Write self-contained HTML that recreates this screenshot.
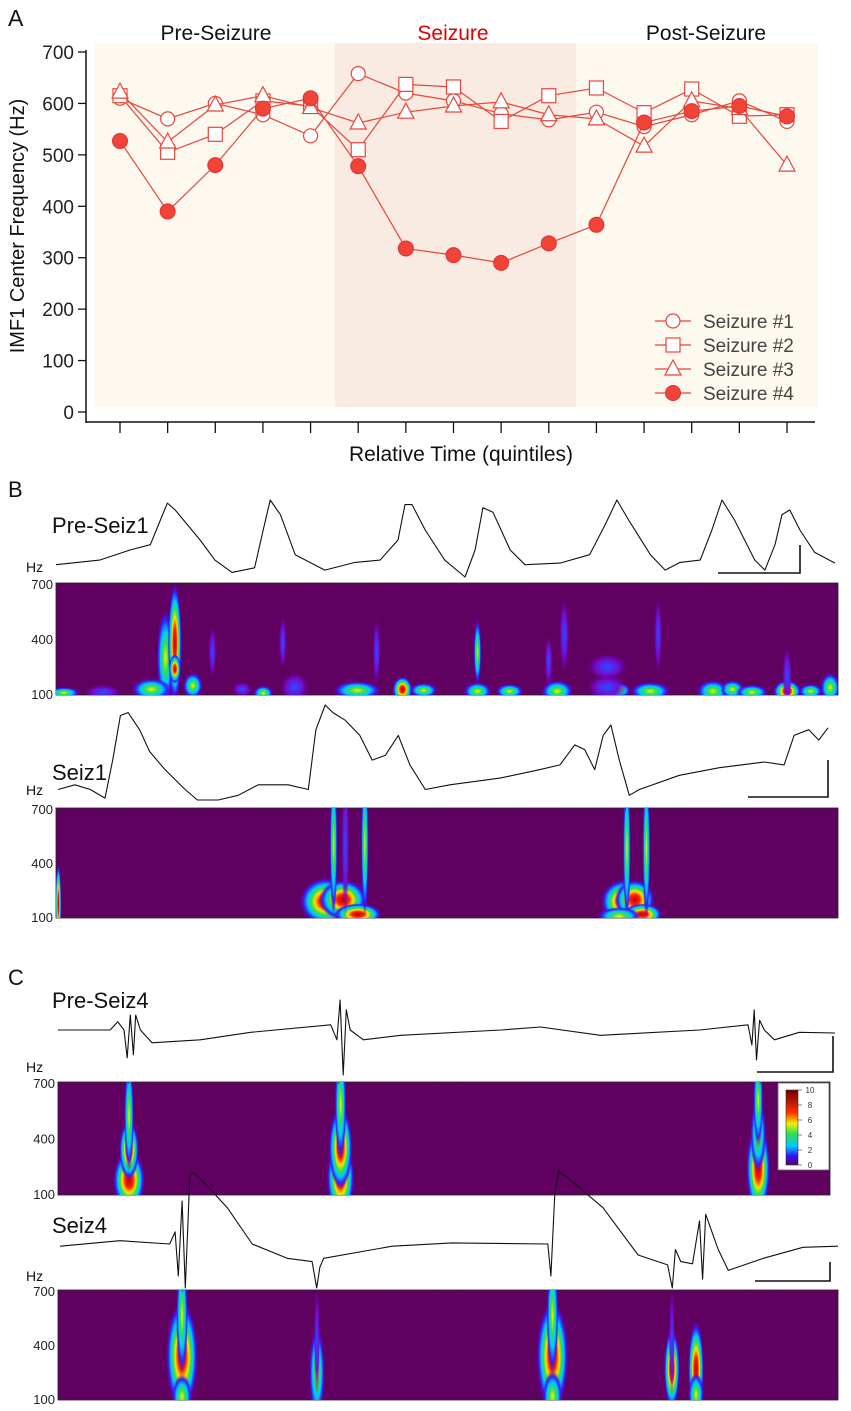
<!DOCTYPE html>
<html><head><meta charset="utf-8">
<style>
html,body{margin:0;padding:0;background:#fff;}
svg{display:block;font-family:"Liberation Sans",sans-serif;}
</style></head>
<body>
<svg id="fig" width="851" height="1411" viewBox="0 0 851 1411" xmlns="http://www.w3.org/2000/svg">
<defs>
<radialGradient id="gHi"><stop offset="0" stop-color="#c80000"/><stop offset="0.25" stop-color="#ff2000"/><stop offset="0.42" stop-color="#ffe000"/><stop offset="0.56" stop-color="#30e050"/><stop offset="0.7" stop-color="#00c8ff"/><stop offset="0.85" stop-color="#3020ff"/><stop offset="1" stop-color="#7000c0" stop-opacity="0"/></radialGradient>
<radialGradient id="gMid"><stop offset="0" stop-color="#f0f000"/><stop offset="0.3" stop-color="#30e050"/><stop offset="0.55" stop-color="#00c8ff"/><stop offset="0.78" stop-color="#3020ff"/><stop offset="1" stop-color="#7000c0" stop-opacity="0"/></radialGradient>
<radialGradient id="gLow"><stop offset="0" stop-color="#2050ff"/><stop offset="0.55" stop-color="#7010d8"/><stop offset="1" stop-color="#7000c0" stop-opacity="0"/></radialGradient>
<linearGradient id="cbar" x1="0" y1="1" x2="0" y2="0"><stop offset="0" stop-color="#600060"/><stop offset="0.12" stop-color="#3010ff"/><stop offset="0.25" stop-color="#00c8ff"/><stop offset="0.42" stop-color="#30e050"/><stop offset="0.55" stop-color="#f0f000"/><stop offset="0.7" stop-color="#ff3000"/><stop offset="1" stop-color="#700000"/></linearGradient>
</defs>
<g id="panelA"></g>
<g id="panelB"></g>
<g id="panelC"></g>
</svg>
<script>
// ---------- Panel A data ----------
const quintiles = [1,2,3,4,5,6,7,8,9,10,11,12,13,14,15];
const seizure1 = [610,570,600,578,537,658,620,605,580,568,583,555,578,605,565];
const seizure2 = [615,505,540,605,595,510,637,632,565,615,630,582,628,575,578];
const seizure3 = [622,525,597,615,592,562,583,595,603,578,570,517,605,590,480];
const seizure4 = [527,390,480,590,610,478,318,305,290,328,364,563,585,595,575];
const yTicks = [0,100,200,300,400,500,600,700];
const seriesNames = ["Seizure #1","Seizure #2","Seizure #3","Seizure #4"];

// ---------- Trace data (time 0-100, amplitude 0-1) ----------
const preSeiz1T = [0,5.6,9.5,12.1,13.4,14.3,15.3,18.5,20.4,22.6,25.5,26.6,27.5,28.8,30.7,34.5,38.4,41.6,43.9,44.8,45.7,47.4,49.9,52.5,53.8,54.8,56.1,58.3,60.2,64.7,68.5,70.5,72.0,73.5,76.3,78.2,80.1,82.7,84.2,85.5,87.1,89.7,91.0,92.3,93.2,94.2,95.5,97.4,100];
const preSeiz1V = [0.16,0.22,0.35,0.42,0.74,0.96,0.87,0.48,0.22,0.06,0.12,0.61,1.0,0.81,0.29,0.09,0.19,0.22,0.48,0.94,0.94,0.61,0.22,0.0,0.35,0.90,0.84,0.35,0.16,0.18,0.29,0.68,1.0,0.74,0.29,0.09,0.19,0.22,0.61,1.0,0.74,0.22,0.09,0.42,0.81,0.87,0.61,0.32,0.18];
const seiz1T = [0,2.2,4.2,6.1,7.1,8.1,9.1,10.6,11.9,13.9,16.5,18.1,20.8,23.4,26.0,29.9,32.5,33.5,34.7,35.7,37.3,39.2,40.8,42.5,44.2,45.7,47.7,50.9,57.4,62.6,65.2,67.1,68.4,69.7,70.8,71.8,72.9,74.2,75.5,80.7,85.9,91.7,94.3,95.6,97.5,98.8,100];
const seiz1V = [0.11,0.16,0.11,0.02,0.42,0.89,0.92,0.74,0.51,0.32,0.11,0.0,0.0,0.05,0.16,0.16,0.11,0.74,1.0,0.92,0.84,0.68,0.42,0.47,0.68,0.37,0.11,0.16,0.23,0.32,0.37,0.58,0.53,0.32,0.68,0.79,0.42,0.05,0.11,0.26,0.34,0.40,0.37,0.68,0.74,0.63,0.76];
const preSeiz4T = [0,6.7,7.7,8.5,8.9,9.3,9.7,10.0,10.6,12.1,18.3,24.8,35.1,35.9,36.3,36.7,37.1,37.6,39.3,44.1,57.0,62.1,69.8,82.6,88.8,89.3,89.6,89.9,90.3,90.9,92.2,95.4,100];
const preSeiz4V = [0.60,0.60,0.71,0.60,0.23,0.80,0.27,0.80,0.60,0.43,0.47,0.57,0.67,0.47,1.0,0.0,0.87,0.60,0.47,0.53,0.60,0.64,0.53,0.60,0.67,0.40,0.87,0.20,0.73,0.60,0.47,0.57,0.56];
const seiz4T = [0,7.7,14.1,14.8,15.2,15.7,16.1,16.7,17.2,18.9,21.5,24.7,29.2,32.4,33.0,33.4,33.9,42.7,50.4,62.7,63.1,63.6,64.1,65.3,69.8,74.3,78.1,78.7,79.1,79.8,81.3,82.2,82.6,83.0,84.6,85.9,90.4,95.5,100];
const seiz4V = [0.38,0.43,0.40,0.51,0.11,0.79,0.0,1.03,1.05,0.93,0.73,0.40,0.27,0.24,0.0,0.19,0.27,0.38,0.41,0.40,0.11,0.86,1.06,1.0,0.73,0.30,0.21,0.0,0.35,0.24,0.22,0.61,0.08,0.67,0.35,0.16,0.27,0.37,0.38];

// ---------- Spectrogram blobs: time (0-100), freq (Hz), width, height(Hz), level ----------
const specB1T = [14.0,15.2,15.2,12.2,23.8,26.5,30.5,38.5,44.3,53.9,53.9,64.1,65.0,70.5,72.0,70.5,84.0,93.5,93.5,99.0,6.0,29.0,63.0,41.0,77.0,1.0,17.5,20.0,47.0,58.0,76.0,86.5,89.0,96.5];
const specB1F = [300,380,240,130,130,110,140,125,130,120,330,120,420,250,125,140,120,120,200,140,115,380,280,330,420,112,150,330,125,120,120,130,115,120];
const specB1W = [9,7,6,20,10,10,14,24,10,14,4,16,5,20,12,20,16,14,5,10,18,4,4,4,4,16,10,4,14,14,20,12,16,12];
const specB1H = [260,320,80,60,40,40,80,50,70,50,180,60,200,70,40,70,60,60,160,80,40,140,140,180,200,30,70,140,40,40,50,50,40,40];
const specB1L = ["mid","hi","hi","mid","low","mid","low","mid","hi","mid","mid","mid","low","low","mid","low","mid","hi","low","mid","low","low","low","low","low","mid","mid","low","mid","mid","mid","mid","mid","mid"];

const specB2T = [0.3,34.5,36.7,38.6,35.5,37.0,39.5,72.5,74.0,75.0,73.0,75.5,72.0];
const specB2F = [180,190,200,120,500,500,500,190,200,120,480,480,110];
const specB2W = [3,26,24,24,4,4,4,22,20,20,4,4,22];
const specB2H = [220,130,110,60,400,400,400,120,110,60,400,400,50];
const specB2L = ["hi","hi","hi","hi","mid","low","mid","hi","hi","hi","mid","mid","mid"];

const specC1T = [9.2,9.2,9.2,36.6,36.6,36.6,90.7,90.7,90.7];
const specC1F = [180,340,520,190,350,580,240,420,600];
const specC1W = [16,10,5,14,12,6,12,8,5];
const specC1H = [160,160,300,200,220,300,240,200,250];
const specC1L = ["hi","hi","mid","hi","hi","mid","hi","mid","mid"];

const specC2T = [15.9,15.9,15.9,33.2,33.2,63.4,63.4,63.4,78.7,81.8,81.8,78.7];
const specC2F = [340,560,120,250,420,340,560,120,270,270,130,420];
const specC2W = [16,6,10,8,3,16,6,10,8,8,8,3];
const specC2H = [300,320,120,250,300,300,320,140,220,260,120,300];
const specC2L = ["hi","mid","mid","mid","low","hi","mid","mid","hi","hi","mid","low"];

const colorbarTicks = [0,2,4,6,8,10];

// ---------- helpers ----------
const NS = "http://www.w3.org/2000/svg";
function mk(tag, attrs, parent, text){
  const el = document.createElementNS(NS, tag);
  for (const k in attrs) el.setAttribute(k, attrs[k]);
  if (text !== undefined) el.textContent = text;
  parent.appendChild(el);
  return el;
}

// ================= Panel A =================
const A = document.getElementById('panelA');
const xA = i => 120 + (i-1)*(787-120)/14;
const yA = v => 412 - v*360/700;
const red = "#e8453c";

let bg = mk('rect',{x:95,y:43,width:723,height:364,fill:"#fdf9ef"},A);


let band = mk('rect',{x:335,y:43,width:241,height:364,fill:"#f9ebe2"},A);



let lblA = mk('text',{x:8,y:26,"font-size":23,fill:"#111"},A,"A");


const phases = [["Pre-Seizure",216,"#111"],["Seizure",453,"#e00000"],["Post-Seizure",706,"#111"]];
phases.forEach(p=>{
  const t = mk('text',{x:p[1],y:40,"font-size":21,"text-anchor":"middle",fill:p[2]},A,p[0]);
  
  
});

let yAxis = mk('line',{x1:86,y1:50,x2:86,y2:423,stroke:"#111","stroke-width":1.5},A);


let xAxis = mk('line',{x1:86,y1:422,x2:815,y2:422,stroke:"#111","stroke-width":1.5},A);


yTicks.forEach(v=>{
  const tk = mk('line',{x1:78,y1:yA(v),x2:86,y2:yA(v),stroke:"#111","stroke-width":1.3},A);
  
  
  const tl = mk('text',{x:74,y:yA(v)+7,"font-size":19,"text-anchor":"end",fill:"#222"},A,String(v));
  
  
});
quintiles.forEach(q=>{
  const tk = mk('line',{x1:xA(q),y1:422,x2:xA(q),y2:433,stroke:"#111","stroke-width":1.3},A);
  
  
});
let yt = mk('text',{x:0,y:0,"font-size":20,"text-anchor":"middle",fill:"#111",transform:"translate(24,226) rotate(-90)"},A,"IMF1 Center Frequency (Hz)");


let xt = mk('text',{x:461,y:461,"font-size":21,"text-anchor":"middle",fill:"#111"},A,"Relative Time (quintiles)");



function marker(kind, cx, cy, parent){
  let m;
  if (kind===0) m = mk('circle',{cx:cx,cy:cy,r:7,fill:"#fff",stroke:red,"stroke-width":1.2},parent);
  else if (kind===1) m = mk('rect',{x:cx-7,y:cy-7,width:14,height:14,fill:"#fff",stroke:red,"stroke-width":1.2},parent);
  else if (kind===2) m = mk('polygon',{points:`${cx},${cy-9} ${cx-8},${cy+6} ${cx+8},${cy+6}`,fill:"#fff",stroke:red,"stroke-width":1.2},parent);
  else m = mk('circle',{cx:cx,cy:cy,r:7.5,fill:"#f04438",stroke:"#e03030","stroke-width":1},parent);
  return m;
}
const allSeries = [seizure1,seizure2,seizure3,seizure4];
const seriesSlugs = ["seizure-1","seizure-2","seizure-3","seizure-4"];
allSeries.forEach((s,si)=>{
  const g = mk('g',{},A);
  
  
  const pts = s.map((v,i)=>xA(quintiles[i])+","+yA(v)).join(" ");
  const ln = mk('polyline',{points:pts,fill:"none",stroke:red,"stroke-width":1.2},g);
  
  
  s.forEach((v,i)=>{
    const m = marker(si, xA(quintiles[i]), yA(v), g);
    
    
  });
});
const legY = [321,345,369,393];
seriesNames.forEach((n,i)=>{
  const g = mk('g',{},A);
  
  
  mk('line',{x1:655,y1:legY[i],x2:691,y2:legY[i],stroke:red,"stroke-width":1.2},g);
  marker(i,673,legY[i],g);
  mk('text',{x:703,y:legY[i]+7,"font-size":19,fill:"#444"},g,n);
});

// ================= Traces & spectrograms =================
function trace(parent, name, T, V, x0, x1, yTop, yBot){
  const pts = T.map((t,i)=>{
    const x = x0 + t/100*(x1-x0);
    const y = yBot - V[i]*(yBot-yTop);
    return x.toFixed(1)+","+y.toFixed(1);
  }).join(" ");
  const p = mk('polyline',{points:pts,fill:"none",stroke:"#111","stroke-width":1.1,"stroke-linejoin":"round"},parent);
  
  
}
function scalebar(parent, x0, x1, yTop, yBot){
  const p = mk('polyline',{points:`${x0},${yBot} ${x1},${yBot} ${x1},${yTop}`,fill:"none",stroke:"#111","stroke-width":1.6},parent);
  
  
}
function spectro(parent, name, x0, x1, yTop, yBot, T, F, W, H, L){
  const g = mk('g',{},parent);
  
  
  const clipId = name+'-clip';
  const cp = mk('clipPath',{id:clipId},g);
  mk('rect',{x:x0,y:yTop,width:x1-x0,height:yBot-yTop},cp);
  const r = mk('rect',{x:x0,y:yTop,width:x1-x0,height:yBot-yTop,fill:"#600060",stroke:"#222","stroke-width":0.8},g);
  
  
  const fy = f => yBot - (f-100)/600*(yBot-yTop);
  const bl = mk('g',{"clip-path":`url(#${clipId})`},g);
  T.forEach((t,i)=>{
    const cx = x0 + t/100*(x1-x0);
    const e = mk('ellipse',{cx:cx,cy:fy(F[i]),rx:W[i],ry:H[i]/600*(yBot-yTop),fill:`url(#g${L[i][0].toUpperCase()+L[i].slice(1)})`},bl);
    
    
  });
  for (let x=x0; x<=x1; x+=7.8){
    mk('line',{x1:x,y1:yTop,x2:x,y2:yTop+2,stroke:"#222","stroke-width":0.6},g);
  }
  [[700,yTop+6],[400,fy(400)+5],[100,yBot+4]].forEach(a=>{
    const t = mk('text',{x:x0-3,y:a[1],"font-size":13,"text-anchor":"end",fill:"#222"},g,String(a[0]));
    
    
  });
}
function label(parent, txt, x, y, size, name){
  const t = mk('text',{x:x,y:y,"font-size":size,fill:"#111"},parent,txt);
  
  
}

const B = document.getElementById('panelB');
label(B,"B",8,497,22,'panel-b-label');
label(B,"Pre-Seiz1",52,533,22,'trace-label-pre-seiz1');
label(B,"Hz",26,572,14,'hz-label');
trace(B,'trace-pre-seiz1',preSeiz1T,preSeiz1V,56,835,500,577);
scalebar(B,718,800,545,573);
spectro(B,'spectrogram-pre-seiz1',56,838,583,695,specB1T,specB1F,specB1W,specB1H,specB1L);
label(B,"Seiz1",52,780,22,'trace-label-seiz1');
label(B,"Hz",26,795,14,'hz-label');
trace(B,'trace-seiz1',seiz1T,seiz1V,58,828,705,800);
scalebar(B,748,828,760,797);
spectro(B,'spectrogram-seiz1',56,838,808,918,specB2T,specB2F,specB2W,specB2H,specB2L);

const C = document.getElementById('panelC');
label(C,"C",8,985,22,'panel-c-label');
label(C,"Pre-Seiz4",52,1008,22,'trace-label-pre-seiz4');
label(C,"Hz",26,1072,14,'hz-label');
trace(C,'trace-pre-seiz4',preSeiz4T,preSeiz4V,58,835,1000,1075);
scalebar(C,757,833,1036,1072);
spectro(C,'spectrogram-pre-seiz4',58,830,1082,1195,specC1T,specC1F,specC1W,specC1H,specC1L);
label(C,"Seiz4",52,1233,22,'trace-label-seiz4');
label(C,"Hz",26,1281,14,'hz-label');
trace(C,'trace-seiz4',seiz4T,seiz4V,60,838,1178,1288);
scalebar(C,755,830,1262,1281);
spectro(C,'spectrogram-seiz4',58,838,1290,1400,specC2T,specC2F,specC2W,specC2H,specC2L);

const cb = mk('g',{},C);


mk('rect',{x:778,y:1083,width:51,height:87,fill:"#fff",stroke:"#666","stroke-width":0.8},cb);
mk('rect',{x:786,y:1090,width:12,height:75,fill:"url(#cbar)",stroke:"#333","stroke-width":0.6},cb);
colorbarTicks.forEach(v=>{
  const y = 1165 - v/10*75;
  mk('line',{x1:798,y1:y,x2:802,y2:y,stroke:"#333","stroke-width":0.6},cb);
  const t = mk('text',{x:810,y:y+3,"font-size":8,"text-anchor":"middle",fill:"#333"},cb,String(v));
  
  
});
</script>
</body></html>
